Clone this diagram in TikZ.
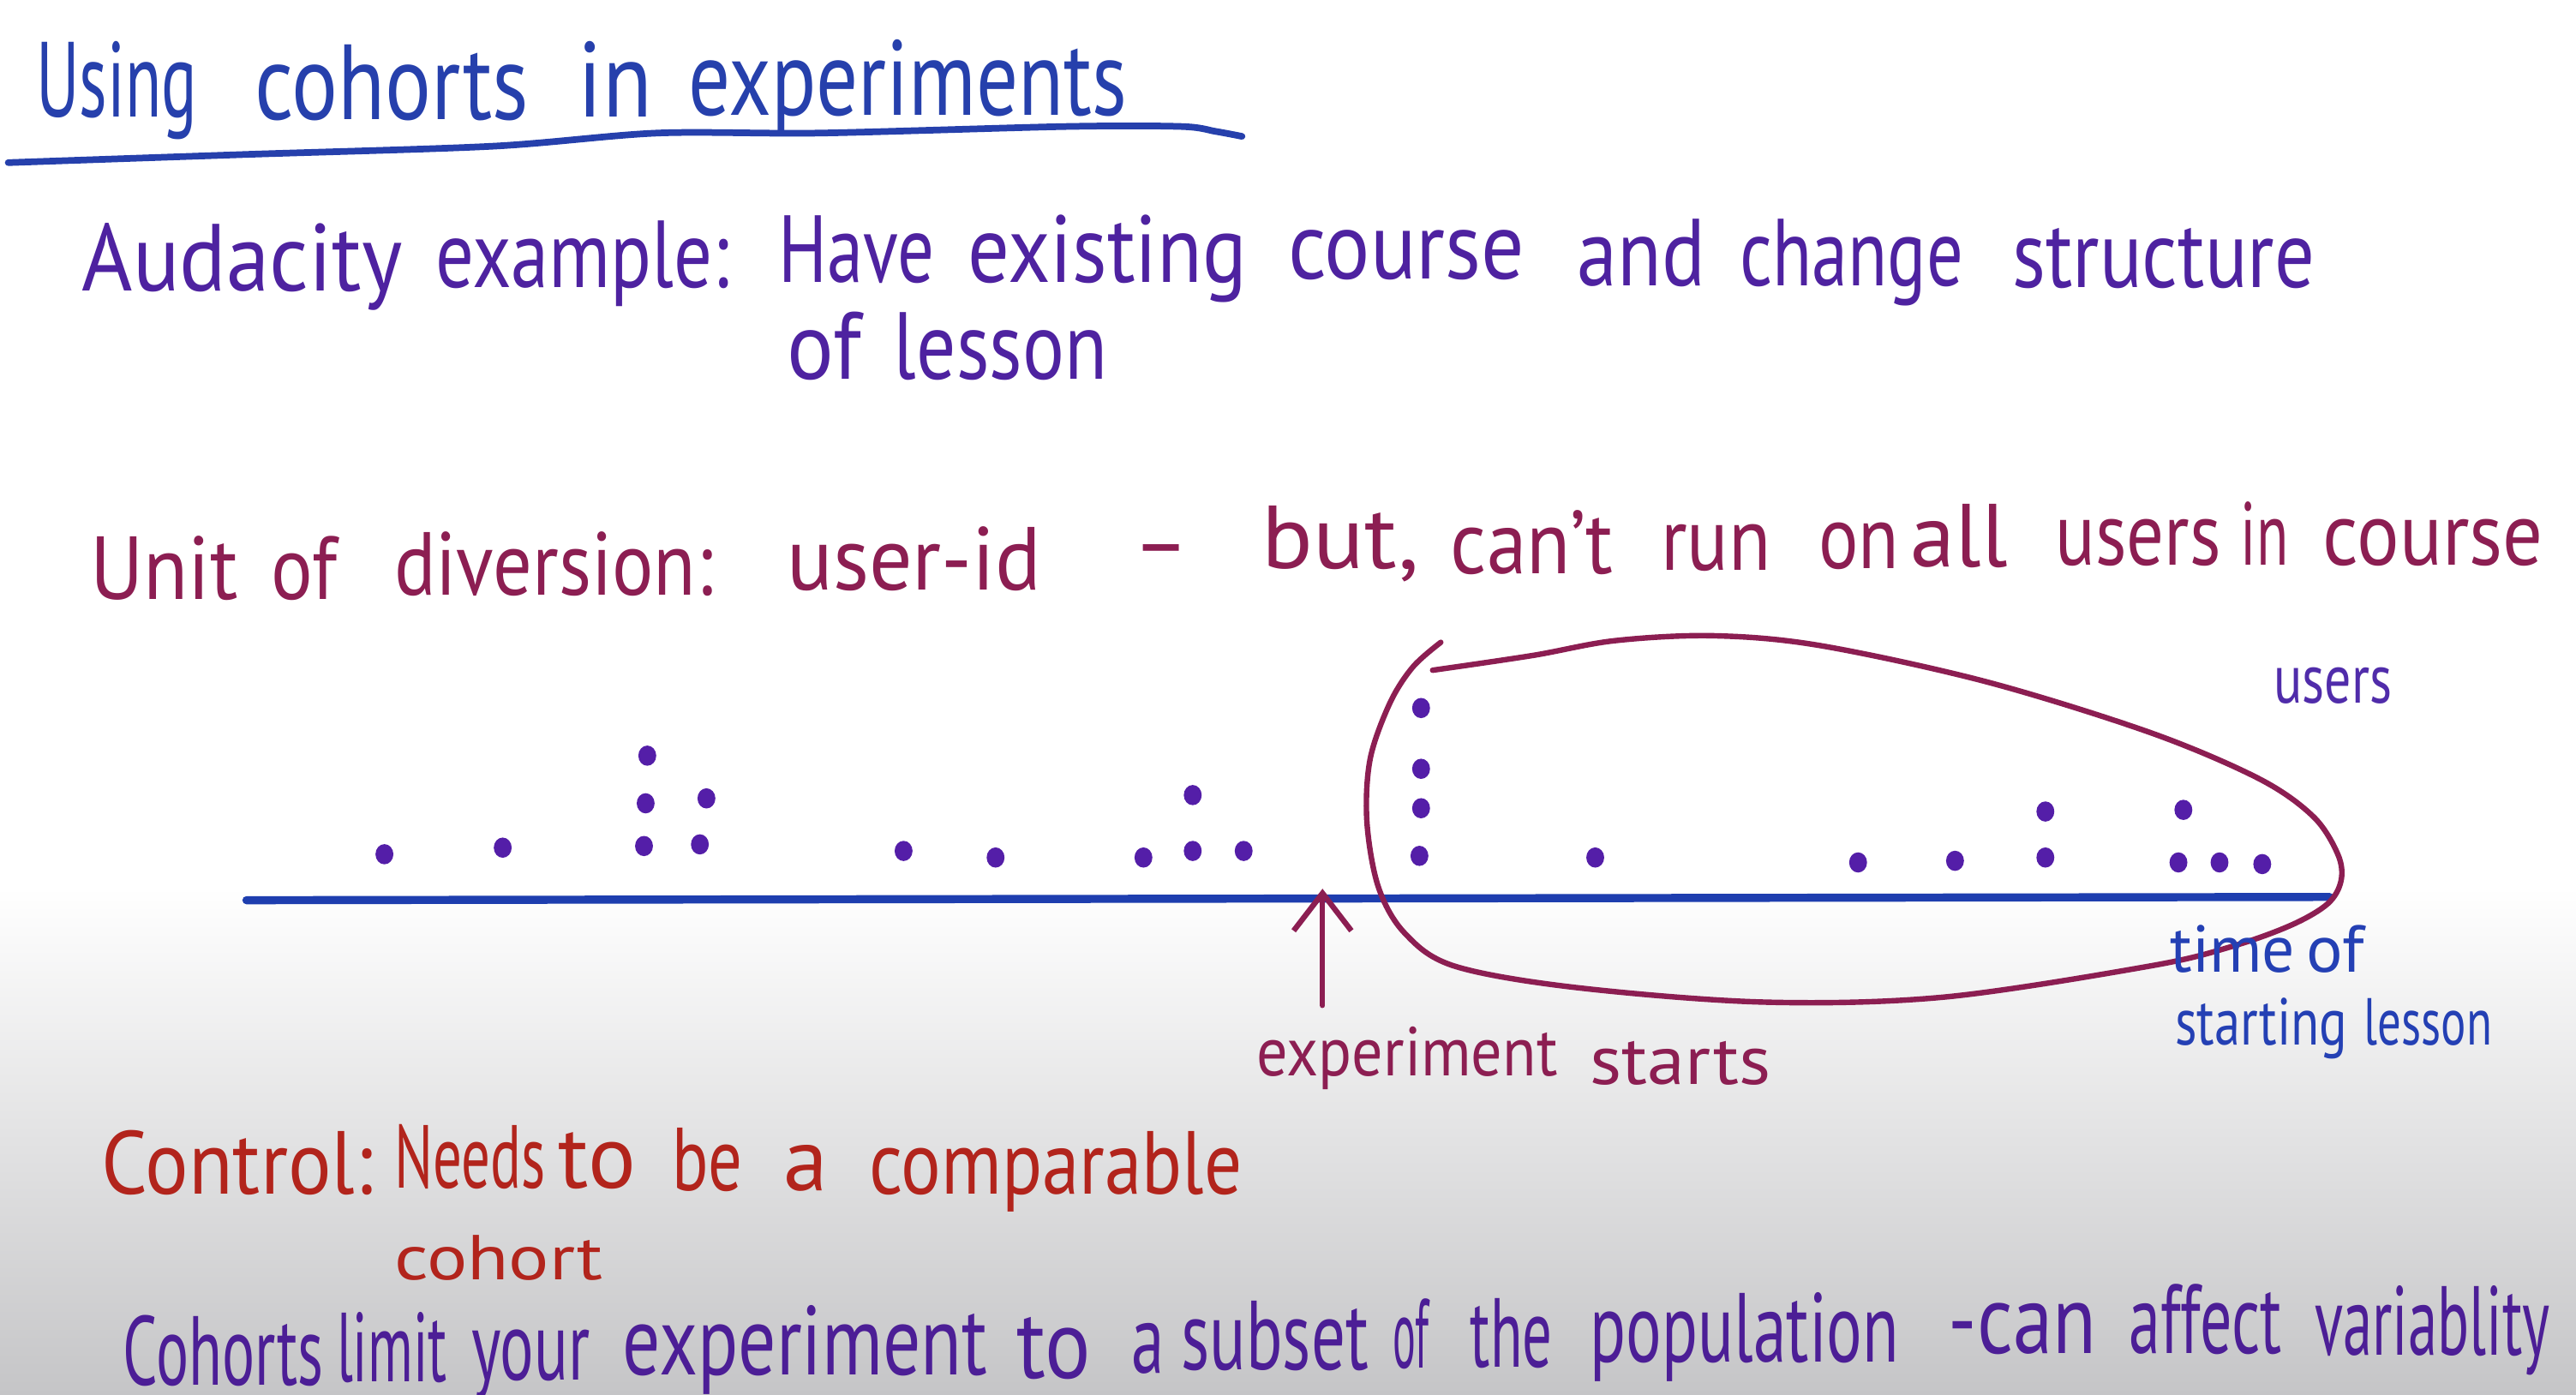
\documentclass[tikz,border=0pt]{standalone}
\usepackage{fontspec}
\setmainfont{PT Sans}
\usepackage{graphicx}
\usetikzlibrary{arrows.meta}
\newlength\hwu \setlength\hwu{0.02cm}
\newcommand\hwtext[5]{\node[hwword] (#1) at (#2,#4) {\resizebox{\dimexpr\hwu*\numexpr#3-#2\relax\relax}{\height}{#5}};}
\definecolor{cTitle}{RGB}{38,64,172}
\definecolor{cPurp}{RGB}{78,34,160}
\definecolor{cMar}{RGB}{140,30,82}
\definecolor{cDot}{RGB}{84,30,168}
\definecolor{cLine}{RGB}{30,62,175}
\definecolor{cUsers}{RGB}{80,44,170}
\definecolor{cTime}{RGB}{36,64,180}
\definecolor{cRed}{RGB}{178,36,28}
\definecolor{cBot}{RGB}{76,30,150}
\definecolor{bgBottom}{RGB}{197,197,199}
\definecolor{bgMid}{RGB}{226,226,227}
\begin{document}
\begin{tikzpicture}[x=0.02cm, y=-0.02cm,
  hwword/.style={anchor=base west, inner sep=0pt, outer sep=0pt},
  dotmark/.style={fill=cDot},
  marline/.style={draw=cMar, line width=1.9pt, line cap=round, line join=round}]
% background
\useasboundingbox (0,0) rectangle (1568,849);
\fill[white] (0,0) rectangle (1568,541);
\shade[top color=white, middle color=bgMid, bottom color=bgBottom] (0,540) rectangle (1568,849);

% title
\begin{scope}[every node/.append style={font=\fontsize{37}{40}\selectfont, text=cTitle}]
\hwtext{t1}{22}{120}{71}{Using}
\hwtext{t2}{155}{322}{73}{cohorts}
\hwtext{t3}{352}{397}{71}{in}
\hwtext{t4}{419}{686}{70}{experiments}
\end{scope}
\draw[cTitle, line width=2.3pt, line cap=round] plot[smooth, tension=0.5] coordinates {(5,99) (150,94) (300,89) (400,81) (499,81) (649,77) (719,77) (740,80) (756,83)};

% line 2
\begin{scope}[every node/.append style={font=\fontsize{33}{36}\selectfont, text=cPurp}]
\hwtext{a1}{50}{245}{177}{Audacity}
\hwtext{a2}{265}{444}{175}{example:}
\hwtext{a3}{474}{569}{172}{Have}
\hwtext{a4}{589}{759}{172}{existing}
\hwtext{a5}{784}{928}{170}{course}
\hwtext{a6}{960}{1038}{174}{and}
\hwtext{a7}{1059}{1195}{174}{change}
\hwtext{a8}{1225}{1409}{175}{structure}
\hwtext{a9}{479}{524}{231}{of}
\hwtext{a10}{544}{674}{231}{lesson}
\end{scope}

% line 3
\begin{scope}[every node/.append style={font=\fontsize{31}{34}\selectfont, text=cMar}]
\hwtext{u1}{55}{145}{365}{Unit}
\hwtext{u2}{165}{205}{365}{of}
\hwtext{u3}{240}{434}{362}{diversion:}
\hwtext{u4}{479}{634}{359}{user-id}
\hwtext{u5}{690}{724}{349}{–}
\hwtext{u6}{768}{864}{346}{but,}
\hwtext{u7}{883}{982}{349}{can't}
\hwtext{u8}{1011}{1078}{347}{run}
\hwtext{u9}{1107}{1156}{346}{on}
\hwtext{u10}{1163}{1222}{345}{all}
\hwtext{u11}{1251}{1352}{344}{users}
\hwtext{u12}{1364}{1393}{344}{in}
\hwtext{u13}{1414}{1548}{344}{course}
\end{scope}

% dots
\foreach \px/\py in {234/520, 306/516, 394/460, 393/489, 430/486, 392/515, 426/514, 550/518, 606/522, 696/522, 726/518, 726/484, 757/518,
  865/431, 865/468, 865/492, 864/521, 971/522, 1131/525, 1190/524, 1245/494, 1245/522, 1329/493, 1326/525, 1351/525, 1377/526}
  \fill[dotmark] (\px,\py) ellipse [x radius=3.1pt, y radius=3.5pt];

% timeline
\coordinate (tl0) at (150,548);
\coordinate (tl1) at (1418,546);
\draw[cLine, line width=2.8pt, line cap=round] (tl0) -- (tl1);

% cohort loop
\draw[marline] plot[smooth, tension=0.55] coordinates {(872,408) (933,399) (983,390) (1043,387) (1108,393) (1209,415) (1309,446) (1375,474) (1408,497) (1423,520) (1425,536) (1417,550) (1395,563) (1359,576) (1309,588) (1183,607) (1073,610) (958,601) (885,588) (855,568) (839,540) (832,500) (834,462) (846,428) (860,406) (877,391)};

% labels
\hwtext{us}{1384}{1456}{428}{\fontsize{24}{26}\selectfont\color{cUsers}users}
\begin{scope}[every node/.append style={font=\fontsize{23}{25}\selectfont, text=cTime}]
\hwtext{tm1}{1321}{1397}{592}{time}
\hwtext{tm2}{1404}{1439}{592}{of}
\hwtext{tm3}{1324}{1429}{636}{starting}
\hwtext{tm4}{1439}{1517}{636}{lesson}
\end{scope}
\begin{scope}[every node/.append style={font=\fontsize{24}{26}\selectfont, text=cMar}]
\hwtext{ex1}{765}{948}{655}{experiment}
\hwtext{ex2}{968}{1078}{660}{starts}
\end{scope}

% arrow
\coordinate (arrowtail) at (805,612);
\coordinate (arrowtip) at (805,541);
\draw[marline, -{Straight Barb[length=13pt, width=20pt]}] (arrowtail) -- (arrowtip);

% control
\begin{scope}[every node/.append style={font=\fontsize{31}{34}\selectfont, text=cRed}]
\hwtext{c1}{62}{227}{727}{Control:}
\hwtext{c2}{240}{332}{723}{Needs}
\hwtext{c3}{340}{387}{723}{to}
\hwtext{c4}{409}{452}{725}{be}
\hwtext{c5}{477}{504}{725}{a}
\hwtext{c6}{529}{756}{727}{comparable}
\end{scope}
\hwtext{c7}{240}{367}{779}{\fontsize{22}{24}\selectfont\color{cRed}cohort}

% bottom line
\begin{scope}[every node/.append style={font=\fontsize{34}{37}\selectfont, text=cBot}]
\hwtext{b1}{75}{197}{843}{Cohorts}
\hwtext{b2}{205}{272}{841}{limit}
\hwtext{b3}{287}{359}{840}{your}
\hwtext{b4}{379}{601}{837}{experiment}
\hwtext{b5}{619}{664}{839}{to}
\hwtext{b6}{689}{709}{836}{a}
\hwtext{b7}{719}{833}{834}{subset}
\hwtext{b8}{848}{870}{833}{of}
\hwtext{b9}{895}{945}{832}{the}
\hwtext{b10}{968}{1156}{829}{population}
\hwtext{b11}{1186}{1276}{824}{-can}
\hwtext{b12}{1296}{1389}{824}{affect}
\hwtext{b13}{1409}{1552}{825}{variablity}
\end{scope}
\end{tikzpicture}
\end{document}
